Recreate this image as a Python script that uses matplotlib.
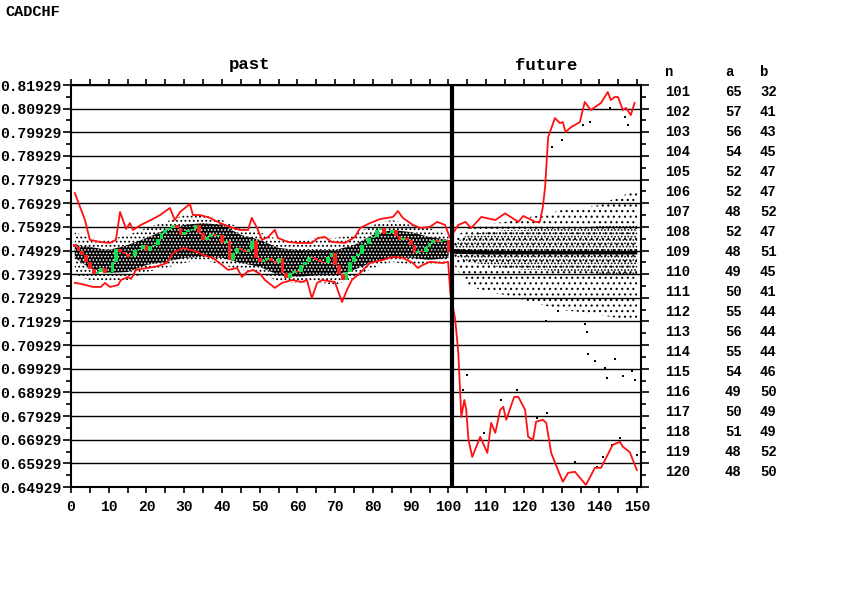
import numpy as np
import matplotlib
matplotlib.use("Agg")
from matplotlib import pyplot as plt

plt.rcParams['font.family'] = ['Liberation Mono', 'DejaVu Sans Mono']
plt.rcParams['font.weight'] = 'bold'
plt.rcParams['hatch.linewidth'] = 0.8

# candle data (x = 1..100), open of first candle then closes
open0 = 0.7521
closes = [0.7508, 0.7491, 0.7474, 0.7445, 0.7415, 0.7394, 0.7402, 0.7419, 0.7398, 0.7402,
          0.7445, 0.7500, 0.7487, 0.7478, 0.7466, 0.7470, 0.7495, 0.7500, 0.7516, 0.7491,
          0.7512, 0.7516, 0.7542, 0.7567, 0.7580, 0.7588, 0.7601, 0.7588, 0.7559, 0.7571,
          0.7580, 0.7584, 0.7601, 0.7567, 0.7538, 0.7550, 0.7563, 0.7555, 0.7559, 0.7525,
          0.7533, 0.7453, 0.7483, 0.7504, 0.7495, 0.7487, 0.7500, 0.7533, 0.7462, 0.7445,
          0.7453, 0.7462, 0.7449, 0.7440, 0.7462, 0.7398, 0.7377, 0.7398, 0.7407, 0.7402,
          0.7432, 0.7445, 0.7466, 0.7462, 0.7453, 0.7445, 0.7440, 0.7466, 0.7483, 0.7432,
          0.7394, 0.7368, 0.7402, 0.7445, 0.7470, 0.7478, 0.7516, 0.7521, 0.7546, 0.7550,
          0.7580, 0.7588, 0.7563, 0.7567, 0.7580, 0.7555, 0.7538, 0.7546, 0.7538, 0.7516,
          0.7483, 0.7491, 0.7487, 0.7508, 0.7525, 0.7538, 0.7529, 0.7533, 0.7538, 0.7487]

# red envelope, upper (past + future)
upper_x = [1.0, 3.7, 5.0, 7.7, 10.3, 11.9, 13.0, 14.6, 15.6, 16.4, 18.5, 21.2, 23.6, 26.2, 27.5,
           28.9, 31.5, 32.3, 34.2, 36.8, 39.5, 42.1, 44.8, 46.9, 47.9, 49.3, 50.6, 52.2, 54.0,
           54.8, 57.5, 60.1, 63.8, 65.4, 67.3, 69.1, 72.6, 75.2, 76.6, 79.2, 81.9, 85.3, 86.6,
           87.9, 90.6, 92.5, 95.1, 97.0, 99.1, 100.4, 102.6, 104.5, 106.0, 108.7, 112.4, 115.0,
           118.5, 119.8, 123.0, 124.2, 125.0, 125.6, 126.4, 128.2, 129.5, 130.3, 131.0, 132.5,
           134.8, 136.1, 137.7, 140.4, 142.2, 143.0, 144.0, 144.9, 146.2, 147.0, 148.3, 149.3]
upper_y = [0.7736, 0.7622, 0.7538, 0.7529, 0.7525, 0.7538, 0.7656, 0.7584, 0.7609, 0.7580,
           0.7601, 0.7622, 0.7643, 0.7673, 0.7622, 0.7656, 0.7690, 0.7643, 0.7643, 0.7631,
           0.7609, 0.7593, 0.7580, 0.7580, 0.7631, 0.7588, 0.7538, 0.7550, 0.7580, 0.7546,
           0.7529, 0.7525, 0.7525, 0.7546, 0.7550, 0.7529, 0.7525, 0.7550, 0.7588, 0.7609,
           0.7626, 0.7635, 0.7660, 0.7631, 0.7601, 0.7588, 0.7593, 0.7614, 0.7601, 0.7546,
           0.7601, 0.7614, 0.7588, 0.7635, 0.7622, 0.7650, 0.7614, 0.7639, 0.7614, 0.7614,
           0.7677, 0.7762, 0.7973, 0.8053, 0.8032, 0.8036, 0.7994, 0.8015, 0.8036, 0.8121,
           0.8087, 0.8117, 0.8163, 0.8129, 0.8142, 0.8142, 0.8087, 0.8096, 0.8066, 0.8117]

# red envelope, lower (past + future)
lower_x = [1.0, 2.6, 5.8, 7.9, 9.0, 10.3, 12.5, 13.2, 15.1, 15.9, 17.2, 18.5, 22.3, 25.4, 27.0,
           29.7, 33.4, 35.0, 37.6, 40.3, 41.6, 44.0, 45.3, 46.6, 48.2, 50.1, 51.4, 54.0, 55.9,
           58.5, 61.2, 62.5, 63.8, 65.2, 66.5, 69.9, 71.8, 73.1, 74.4, 76.6, 79.2, 82.6, 85.3,
           87.9, 90.6, 91.9, 93.2, 95.1, 98.5, 99.9, 100.5, 101.8, 102.6, 103.4, 104.2, 104.7,
           105.3, 106.3, 108.4, 110.3, 111.3, 112.4, 113.7, 114.5, 115.3, 117.4, 118.5, 120.3,
           121.1, 122.4, 123.2, 125.0, 125.9, 127.2, 129.0, 130.3, 131.7, 133.5, 136.4, 138.8,
           140.4, 143.5, 145.4, 146.2, 148.0, 149.9]
lower_y = [0.7356, 0.7352, 0.7339, 0.7339, 0.7356, 0.7339, 0.7347, 0.7368, 0.7381, 0.7373,
           0.7411, 0.7415, 0.7424, 0.7440, 0.7483, 0.7504, 0.7487, 0.7474, 0.7462, 0.7428,
           0.7411, 0.7419, 0.7381, 0.7402, 0.7411, 0.7394, 0.7368, 0.7335, 0.7356, 0.7368,
           0.7360, 0.7368, 0.7292, 0.7356, 0.7368, 0.7360, 0.7275, 0.7326, 0.7368, 0.7398,
           0.7440, 0.7453, 0.7466, 0.7462, 0.7440, 0.7419, 0.7432, 0.7445, 0.7440, 0.7445,
           0.7313, 0.7199, 0.7060, 0.6789, 0.6861, 0.6819, 0.6692, 0.6620, 0.6705, 0.6637,
           0.6764, 0.6722, 0.6819, 0.6832, 0.6777, 0.6874, 0.6874, 0.6819, 0.6705, 0.6692,
           0.6769, 0.6777, 0.6764, 0.6637, 0.6565, 0.6515, 0.6553, 0.6557, 0.6502, 0.6574,
           0.6574, 0.6671, 0.6684, 0.6663, 0.6641, 0.6565]

# simulated-path cloud, past
past_x = [1, 5, 10, 15, 20, 25, 30, 35, 40, 45, 50, 55, 60, 65, 70, 75, 80, 85, 90, 95, 100]
past_core_hi = [0.7516, 0.7508, 0.7495, 0.7516, 0.7546, 0.7580, 0.7601, 0.7609, 0.7601, 0.7559, 0.7538,
                0.7504, 0.7495, 0.7495, 0.7495, 0.7516, 0.7559, 0.7580, 0.7571, 0.7550, 0.7538]
past_core_lo = [0.7462, 0.7419, 0.7398, 0.7402, 0.7432, 0.7445, 0.7462, 0.7466, 0.7462, 0.7440, 0.7424,
                0.7389, 0.7381, 0.7389, 0.7389, 0.7411, 0.7445, 0.7462, 0.7462, 0.7453, 0.7462]
past_sparse_hi = [0.7571, 0.7546, 0.7538, 0.7559, 0.7588, 0.7614, 0.7643, 0.7643, 0.7622, 0.7588, 0.7571,
                  0.7538, 0.7538, 0.7546, 0.7546, 0.7559, 0.7601, 0.7622, 0.7601, 0.7588, 0.7559]
past_sparse_lo = [0.7389, 0.7368, 0.7360, 0.7368, 0.7402, 0.7419, 0.7440, 0.7453, 0.7432, 0.7411, 0.7402,
                  0.7360, 0.7356, 0.7360, 0.7347, 0.7377, 0.7419, 0.7445, 0.7432, 0.7432, 0.7445]

# simulated-path cloud, future
fut_x = [101, 105, 110, 115, 120, 125, 130, 135, 140, 145, 150]
fut_core_hi = [0.7516, 0.7559, 0.7571, 0.7580, 0.7580, 0.7588, 0.7588, 0.7588, 0.7597, 0.7597, 0.7601]
fut_core_lo = [0.7474, 0.7445, 0.7432, 0.7419, 0.7411, 0.7411, 0.7402, 0.7402, 0.7394, 0.7389, 0.7389]
fut_sparse_hi = [0.7538, 0.7588, 0.7605, 0.7614, 0.7631, 0.7643, 0.7664, 0.7673, 0.7685, 0.7720, 0.7745]
fut_sparse_lo = [0.7445, 0.7347, 0.7317, 0.7305, 0.7284, 0.7262, 0.7241, 0.7233, 0.7220, 0.7207, 0.7199]
fut_mid_hi = [0.7500, 0.7495, 0.7493, 0.7491, 0.7491, 0.7491, 0.7491, 0.7491, 0.7491, 0.7491, 0.7491]
fut_mid_lo = [0.7480, 0.7478, 0.7476, 0.7476, 0.7476, 0.7476, 0.7476, 0.7476, 0.7476, 0.7476, 0.7476]

# isolated simulated points in the future
out_x = [127.4, 130.0, 135.6, 137.5, 142.8, 147.5, 146.8,
         103.8, 104.9, 109.4, 113.9, 118.1, 123.4, 126.0, 133.5, 139.3, 140.9, 143.3, 145.4, 149.9,
         125.8, 129.0, 136.2, 136.7, 137.0, 138.8, 141.5, 142.0, 144.1, 146.2, 148.6, 149.5]
out_y = [0.7931, 0.7960, 0.8024, 0.8036, 0.8096, 0.8024, 0.8058,
         0.6903, 0.6967, 0.6722, 0.6861, 0.6903, 0.6785, 0.6806, 0.6599, 0.6578, 0.6620, 0.6671, 0.6701, 0.6628,
         0.7195, 0.7238, 0.7183, 0.7149, 0.7056, 0.7026, 0.6996, 0.6954, 0.7035, 0.6963, 0.6984, 0.6945]

# statistics table
n_vals = list(range(101, 121))
a_vals = [65, 57, 56, 54, 52, 52, 48, 52, 48, 49, 50, 55, 56, 55, 54, 49, 50, 51, 48, 48]
b_vals = [32, 41, 43, 45, 47, 47, 52, 47, 51, 45, 41, 44, 44, 44, 46, 50, 49, 49, 52, 50]

ylo, yhi = 0.64929, 0.81929

fig = plt.figure(figsize=(8.53, 6.03), dpi=100)
ax = fig.add_axes([71 / 853, 1 - 487 / 603, 570 / 853, 402 / 603])
ax.set_xlim(0, 151)
ax.set_ylim(ylo, yhi)

# cloud of simulated paths
ax.fill_between(past_x, past_sparse_lo, past_sparse_hi, facecolor='none', edgecolor='black',
                hatch='....', linewidth=0, zorder=1)
ax.fill_between(past_x, past_core_lo, past_core_hi, facecolor='black', edgecolor='white',
                hatch='.....', linewidth=0, zorder=1)
ax.fill_between(fut_x, fut_sparse_lo, fut_sparse_hi, facecolor='none', edgecolor='black',
                hatch='...', linewidth=0, zorder=1)
ax.fill_between(fut_x, fut_core_lo, fut_core_hi, facecolor='none', edgecolor='black',
                hatch='.....', linewidth=0, zorder=1)
ax.fill_between(fut_x, fut_mid_lo, fut_mid_hi, facecolor='black', linewidth=0, zorder=1)
ax.scatter(out_x, out_y, s=1.5, marker='s', color='black', linewidths=0, zorder=2)

# candles
opens = [open0] + closes[:-1]
xs = np.arange(1, len(closes) + 1)
cols = ['#10e050' if c >= o else '#ff2020' for o, c in zip(opens, closes)]
heights = [max(abs(c - o), 0.0003) for o, c in zip(opens, closes)]
bottoms = [min(o, c) for o, c in zip(opens, closes)]
ax.bar(xs, heights, bottom=bottoms, width=1.0, color=cols, linewidth=0, zorder=3)

ax.plot(upper_x, upper_y, color='#ff1010', lw=1.3, zorder=4)
ax.plot(lower_x, lower_y, color='#ff1010', lw=1.3, zorder=4)
ax.axvline(100.8, color='black', lw=3, zorder=5)

# axes styling
yt = [ylo + 0.01 * k for k in range(18)]
ax.set_yticks(yt)
ax.set_yticklabels(['%.5f' % v for v in yt])
ax.set_yticks([ylo + 0.005 + 0.01 * k for k in range(17)], minor=True)
ax.set_xticks(range(0, 151, 10))
ax.set_xticks(range(5, 151, 10), minor=True)
ax.grid(axis='y', which='major', color='black', lw=1)
ax.tick_params(axis='both', which='both', direction='out', width=1.2, colors='black',
               labelsize=10.5)
ax.tick_params(axis='y', which='major', length=6, pad=1, left=True, right=True)
ax.tick_params(axis='y', which='minor', length=3.5, left=True, right=True)
ax.tick_params(axis='x', which='both', length=4.5, pad=5, top=True, bottom=True)
for s in ax.spines.values():
    s.set_linewidth(1.5)

fig.text(5 / 853, 1 - 12 / 603, 'CADCHF', fontsize=11, va='center', ha='left')
fig.text(250 / 853, 1 - 65 / 603, 'past', fontsize=12.5, va='center', ha='center')
fig.text(546 / 853, 1 - 65 / 603, 'future', fontsize=12.5, va='center', ha='center')

fig.text(665 / 853, 1 - 72 / 603, 'n', fontsize=10, va='center', ha='left')
fig.text(725 / 853, 1 - 72 / 603, 'a', fontsize=10, va='center', ha='left')
fig.text(760 / 853, 1 - 72 / 603, 'b', fontsize=10, va='center', ha='left')
for i, (n, a, b) in enumerate(zip(n_vals, a_vals, b_vals)):
    yy = 1 - (92 + 20 * i) / 603
    fig.text(665 / 853, yy, str(n), fontsize=10, va='center', ha='left')
    fig.text(725 / 853, yy, str(a), fontsize=10, va='center', ha='left')
    fig.text(760 / 853, yy, str(b), fontsize=10, va='center', ha='left')

fig.savefig('out.png', dpi=100)
